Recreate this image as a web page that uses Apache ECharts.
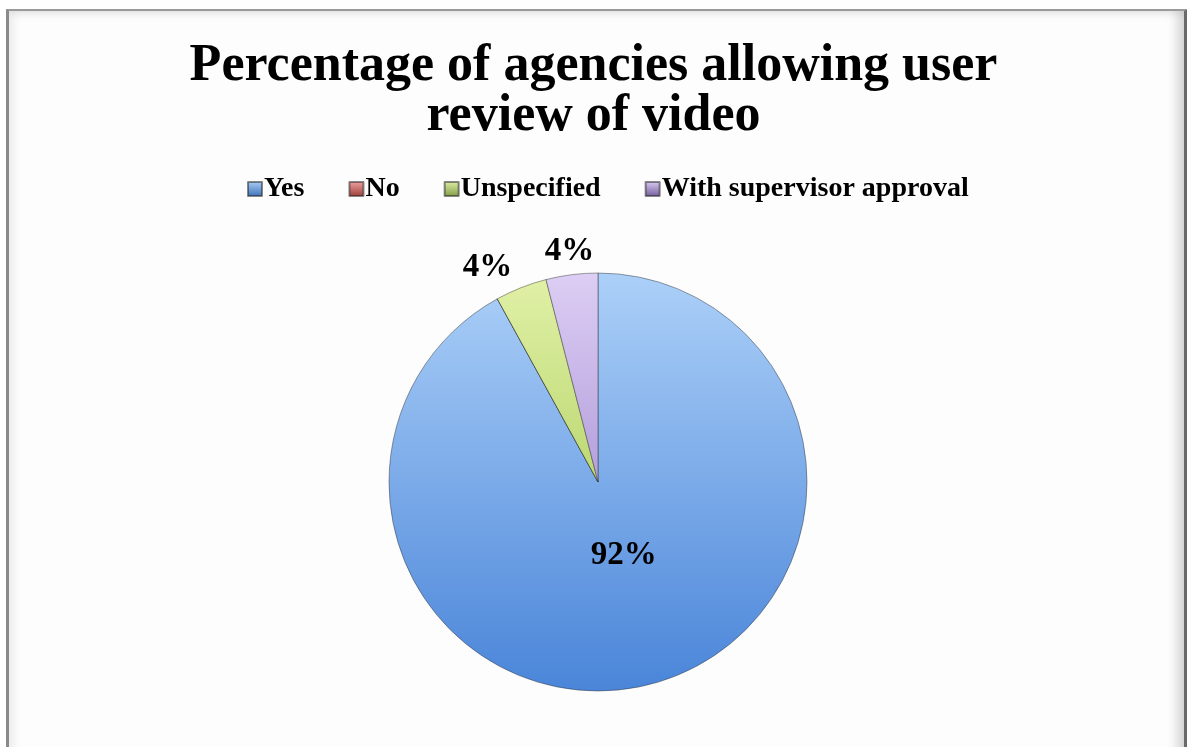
<!DOCTYPE html>
<html>
<head>
<meta charset="utf-8">
<script src="https://cdn.jsdelivr.net/npm/echarts@6/dist/echarts.min.js"></script>
<style>
  html, body { margin: 0; padding: 0; background: #ffffff; }
  #frame {
    position: absolute; left: 6px; top: 9px; width: 1175px; height: 760px;
    border-top: 2px solid #9a9a9a; border-left: 3px solid #8a8a8a; border-right: 5px solid #6a6a6a;
    box-shadow: inset 8px 6px 10px -4px rgba(0,0,0,0.08), inset -10px 0 12px -4px rgba(0,0,0,0.18);
    background: #fdfdfd;
  }
  #chart { position: absolute; left: 0; top: 0; width: 1187px; height: 747px; }
</style>
</head>
<body>
<div id="frame"></div>
<div id="chart"></div>
<script>
const titleLines = ['Percentage of agencies allowing user', 'review of video'];
const categories = ['Yes', 'No', 'Unspecified', 'With supervisor approval'];
const values = [92, 0, 4, 4];
const valueLabels = ['92%', '', '4%', '4%'];

const palette = [
  ['#acd0f8', '#4a85d9', '#3c6fb8'],
  ['#f0a5a3', '#c0504d', '#9b3b39'],
  ['#e0f0a6', '#bcd872', '#7f9a45'],
  ['#dccef4', '#b49fdc', '#6f5a99']
];
const labelOffsets = [[-1, -31], [0, 0], [-71, -115], [-15, -124]];

const chart = echarts.init(document.getElementById('chart'), null, { renderer: 'canvas' });
const FONT = '"Liberation Serif", "DejaVu Serif", serif';

const data = categories.map((c, i) => ({
  name: c,
  value: values[i],
  itemStyle: {
    color: new echarts.graphic.LinearGradient(0, 0, 0, 1, [
      { offset: 0, color: palette[i][0] },
      { offset: 1, color: palette[i][1] }
    ]),
    borderColor: 'rgba(40,40,40,0.55)',
    borderWidth: 0.8
  },
  label: {
    show: values[i] > 0,
    position: 'inside',
    formatter: valueLabels[i],
    offset: labelOffsets[i],
    color: '#000',
    fontFamily: FONT,
    fontWeight: 'bold',
    fontSize: 33
  },
  labelLine: { show: false }
}));

chart.setOption({
  backgroundColor: 'transparent',
  animation: false,
  title: {
    text: titleLines.join('\n'),
    left: 'center',
    top: 37,
    textStyle: {
      fontFamily: FONT, fontWeight: 'bold', fontSize: 52, lineHeight: 50, color: '#000'
    }
  },
  legend: {
    data: categories.map((c, i) => ({
      name: c,
      icon: 'rect',
      itemStyle: {
        color: new echarts.graphic.LinearGradient(0, 0, 0, 1, [
          { offset: 0, color: palette[i][0] },
          { offset: 1, color: palette[i][2] }
        ])
      }
    })),
    top: 170,
    left: 242,
    itemWidth: 14,
    itemHeight: 14,
    itemGap: 44,
    textStyle: { fontFamily: FONT, fontWeight: 'bold', fontSize: 28, color: '#000', padding: [0, 0, 0, -3] },
    selectedMode: false
  },
  series: [{
    type: 'pie',
    center: [598, 482],
    radius: 209,
    startAngle: 90,
    clockwise: true,
    avoidLabelOverlap: false,
    stillShowZeroSum: false,
    minShowLabelAngle: 0,
    data: data,
    emphasis: { disabled: true }
  }]
});
</script>
</body>
</html>
